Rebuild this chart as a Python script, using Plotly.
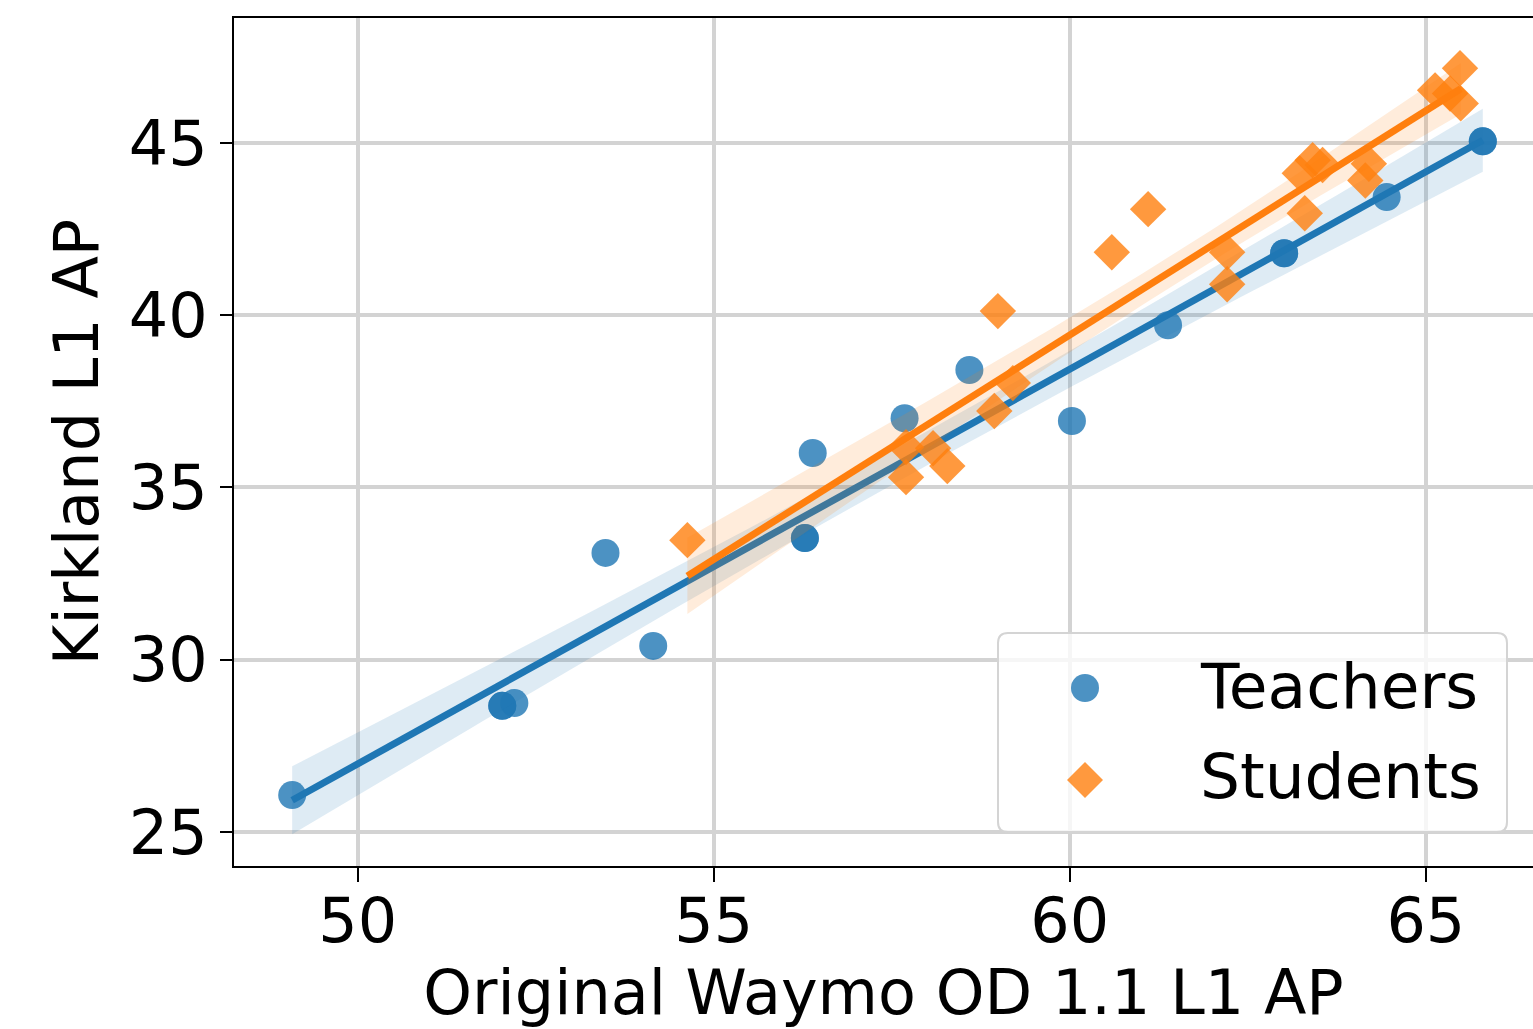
import numpy as np
import plotly.graph_objects as go

# ---- data ----
teachers_x = [49.08, 52.03, 52.03, 52.20, 53.48, 54.15, 56.28, 56.28, 56.39, 57.68,
              58.59, 60.03, 61.38, 63.01, 63.01, 64.45, 65.80, 65.80]
teachers_y = [26.07, 28.66, 28.66, 28.74, 33.10, 30.40, 33.53, 33.53, 36.00, 37.01,
              38.41, 36.93, 39.71, 41.80, 41.80, 43.43, 45.05, 45.05]

students_x = [54.63, 57.70, 57.70, 58.08, 58.28, 58.94, 59.20, 58.99, 60.59, 61.10,
              62.21, 62.21, 63.23, 63.41, 63.55, 64.15, 64.20, 63.30, 65.48, 65.13,
              65.49, 65.34]
students_y = [33.47, 36.17, 35.30, 36.14, 35.62, 37.22, 38.03, 40.12, 41.83, 43.08,
              41.83, 40.90, 44.12, 44.50, 44.36, 43.91, 44.40, 42.96, 47.17, 46.53,
              46.15, 46.44]

x_ticks = [50, 55, 60, 65]
y_ticks = [25, 30, 35, 40, 45]
legend_labels = ["Teachers", "Students"]

BLUE = "#1f77b4"
ORANGE = "#ff7f0e"
FONT = "DejaVu Sans"

W, H = 1533, 1029
ML, MR, MT, MB = 234, 0, 18, 163
PW, PH = W - ML - MR, H - MT - MB


def px_x(p):
    return (p - ML) / PW


def px_y(p):
    return (H - MB - p) / PH


def fit_with_ci(xs, ys, z=1.96, npts=100):
    x = np.asarray(xs, float)
    y = np.asarray(ys, float)
    n = len(x)
    b, a = np.polyfit(x, y, 1)
    grid = np.linspace(x.min(), x.max(), npts)
    yhat = a + b * grid
    resid = y - (a + b * x)
    s = np.sqrt(np.sum(resid ** 2) / (n - 2))
    sxx = np.sum((x - x.mean()) ** 2)
    se = s * np.sqrt(1.0 / n + (grid - x.mean()) ** 2 / sxx)
    return grid, yhat, yhat - z * se, yhat + z * se


def rgba(hex_color, alpha):
    h = hex_color.lstrip("#")
    r, g, b = int(h[0:2], 16), int(h[2:4], 16), int(h[4:6], 16)
    return f"rgba({r},{g},{b},{alpha})"


fig = go.Figure()

series = [
    ("Teachers", teachers_x, teachers_y, BLUE, "circle"),
    ("Students", students_x, students_y, ORANGE, "diamond"),
]

for name, xs, ys, col, sym in series:
    fig.add_trace(go.Scatter(
        x=xs, y=ys, mode="markers", name=name, showlegend=False,
        marker=dict(symbol=sym, size=28, color=col, opacity=0.8, line=dict(width=0)),
    ))
    gx, gy, lo, hi = fit_with_ci(xs, ys)
    fig.add_trace(go.Scatter(
        x=np.concatenate([gx, gx[::-1]]), y=np.concatenate([hi, lo[::-1]]),
        mode="lines", fill="toself", fillcolor=rgba(col, 0.15),
        line=dict(width=0), showlegend=False, hoverinfo="skip",
    ))
    fig.add_trace(go.Scatter(
        x=gx, y=gy, mode="lines", line=dict(color=col, width=7),
        showlegend=False, hoverinfo="skip",
    ))

# ---- legend (matplotlib-style box, drawn as shapes + text) ----
bx0, bx1, by0, by1 = px_x(998), px_x(1507), px_y(832), px_y(633)
rx, ry = 10 / PW, 10 / PH
box_path = (
    f"M {bx0 + rx},{by0} L {bx1 - rx},{by0} Q {bx1},{by0} {bx1},{by0 + ry} "
    f"L {bx1},{by1 - ry} Q {bx1},{by1} {bx1 - rx},{by1} "
    f"L {bx0 + rx},{by1} Q {bx0},{by1} {bx0},{by1 - ry} "
    f"L {bx0},{by0 + ry} Q {bx0},{by0} {bx0 + rx},{by0} Z"
)
shapes = [dict(type="path", xref="paper", yref="paper", path=box_path, layer="above",
               fillcolor="rgba(255,255,255,0.8)", line=dict(color="#d4d4d4", width=2))]

mx = px_x(1085)
row_y = [px_y(688), px_y(780)]
cr_x, cr_y = 14 / PW, 14 / PH
shapes.append(dict(type="circle", xref="paper", yref="paper", layer="above",
                   x0=mx - cr_x, x1=mx + cr_x, y0=row_y[0] - cr_y, y1=row_y[0] + cr_y,
                   fillcolor=rgba(BLUE, 0.8), line=dict(width=0)))
dx, dy = 18 / PW, 18 / PH
yc = row_y[1]
shapes.append(dict(type="path", xref="paper", yref="paper", layer="above",
                   path=f"M {mx - dx},{yc} L {mx},{yc + dy} L {mx + dx},{yc} L {mx},{yc - dy} Z",
                   fillcolor=rgba(ORANGE, 0.8), line=dict(width=0)))

annotations = []
for lbl, yy in zip(legend_labels, [px_y(686), px_y(776)]):
    annotations.append(dict(text=lbl, x=px_x(1198), y=yy, xref="paper", yref="paper",
                            xanchor="left", yanchor="middle", showarrow=False,
                            font=dict(family=FONT, size=63, color="black")))

fig.update_layout(
    width=W, height=H,
    margin=dict(l=ML, r=MR, t=MT, b=MB),
    plot_bgcolor="white", paper_bgcolor="white",
    font=dict(family=FONT, size=62, color="black"),
    showlegend=False,
    shapes=shapes,
    annotations=annotations,
)

fig.update_xaxes(
    range=[48.263, 66.505], tickvals=x_ticks, ticktext=[str(v) for v in x_ticks],
    showgrid=True, gridcolor="#d3d3d3", gridwidth=4, zeroline=False,
    showline=True, linecolor="black", linewidth=2, mirror=True,
    ticks="outside", ticklen=14, tickwidth=2, tickcolor="black",
    ticklabelstandoff=-14,
    tickfont=dict(family=FONT, size=62, color="black"),
    title=dict(text="Original Waymo OD 1.1 L1 AP", standoff=0,
               font=dict(family=FONT, size=62, color="black")),
)
fig.update_yaxes(
    range=[24.01, 48.63], tickvals=y_ticks, ticktext=[str(v) for v in y_ticks],
    showgrid=True, gridcolor="#d3d3d3", gridwidth=4, zeroline=False,
    showline=True, linecolor="black", linewidth=2, mirror=False,
    ticks="outside", ticklen=12, tickwidth=2, tickcolor="black",
    tickfont=dict(family=FONT, size=62, color="black"),
    title=dict(text="Kirkland L1 AP", standoff=10,
               font=dict(family=FONT, size=62, color="black")),
)

fig.write_html("out.html")
